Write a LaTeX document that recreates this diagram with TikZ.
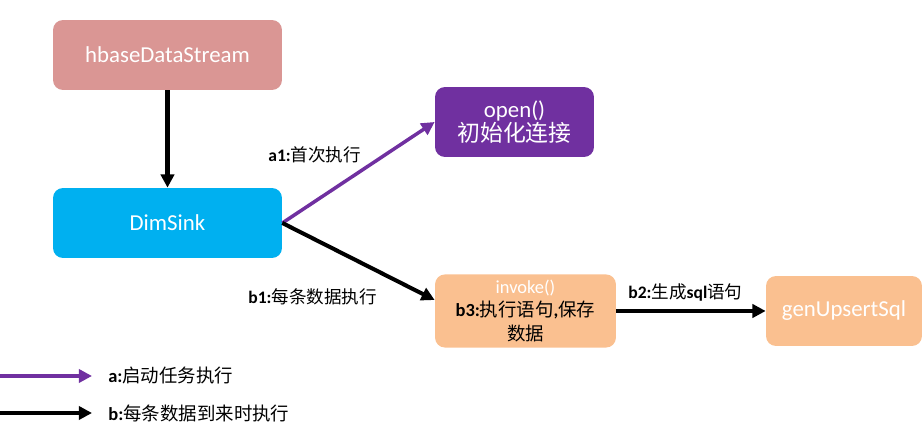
\documentclass[tikz,border=0pt]{standalone}
\usepackage{fontspec}
\setmainfont{Carlito}
\newfontfamily\cjk{Noto Sans CJK SC}
\usetikzlibrary{arrows.meta,positioning}
\definecolor{lachs}{HTML}{DA9694}
\definecolor{himmel}{HTML}{00B0F0}
\definecolor{lila}{HTML}{7030A0}
\definecolor{apricot}{HTML}{FAC090}
\newcommand{\zh}[1]{{\cjk #1}}

\begin{document}
\begin{tikzpicture}[x=0.02cm, y=-0.02cm,
    box/.style={rounded corners=0.2cm, minimum height=1.4cm, text=white, font=\fontsize{13}{15}\selectfont},
    lbl/.style={anchor=west, inner sep=0pt, font=\fontsize{10}{12}\selectfont},
    fluss/.style={line width=2.3pt, -{Triangle[length=7.5pt,width=7.5pt]}}]
    \useasboundingbox (0,0) rectangle (924,428);
    \node[box, fill=lachs, minimum width=4.58cm] (stream) at (167.5,55) {hbaseDataStream};
    \node[box, fill=himmel, minimum width=4.58cm] (sink) at (167.5,223) {DimSink};
    \node[box, fill=lila, minimum width=3.18cm, align=center] (open) at (514.5,122) {open()\\[-1pt]\zh{初始化连接}};
    \node[box, fill=apricot, minimum width=3.62cm, align=center, font=\fontsize{10.5}{13.2}\selectfont] (invoke) at (525.5,311)
        {invoke()\\\textcolor{black}{\textbf{b3:}\zh{执行语句}\textbf{,}\zh{保存}}\\\textcolor{black}{\zh{数据}}};
    \node[box, fill=apricot, minimum width=3.12cm] (upsert) at (844,311) {genUpsertSql};

    \draw[fluss] (stream) -- (sink);
    \draw[fluss, lila, line width=2pt] (sink.east) -- (open.west);
    \draw[fluss] (sink.east) -- ([yshift=0.22cm]invoke.west);
    \draw[fluss] (invoke) -- (upsert);

    \node[lbl] (a1) at (268,155) {\textbf{a1:}\zh{首次执行}};
    \node[lbl] (b1) at (248,297) {\textbf{b1:}\zh{每条数据执行}};
    \node[lbl] (b2) at (628,293) {\textbf{b2:}\zh{生成}\textbf{sql}\zh{语句}};

    % legend
    \coordinate (la0) at (0,376);
    \coordinate (la1) at (92,376);
    \coordinate (lb0) at (0,413);
    \coordinate (lb1) at (92,413);
    \draw[fluss, lila, line width=2pt] (la0) -- (la1);
    \draw[fluss] (lb0) -- (lb1);
    \node[lbl, right=0.32cm of la1, font=\fontsize{10.5}{12}\selectfont] (la) {\textbf{a:}\zh{启动任务执行}};
    \node[lbl, right=0.32cm of lb1, font=\fontsize{10.5}{12}\selectfont] (lb) {\textbf{b:}\zh{每条数据到来时执行}};
\end{tikzpicture}
\end{document}
